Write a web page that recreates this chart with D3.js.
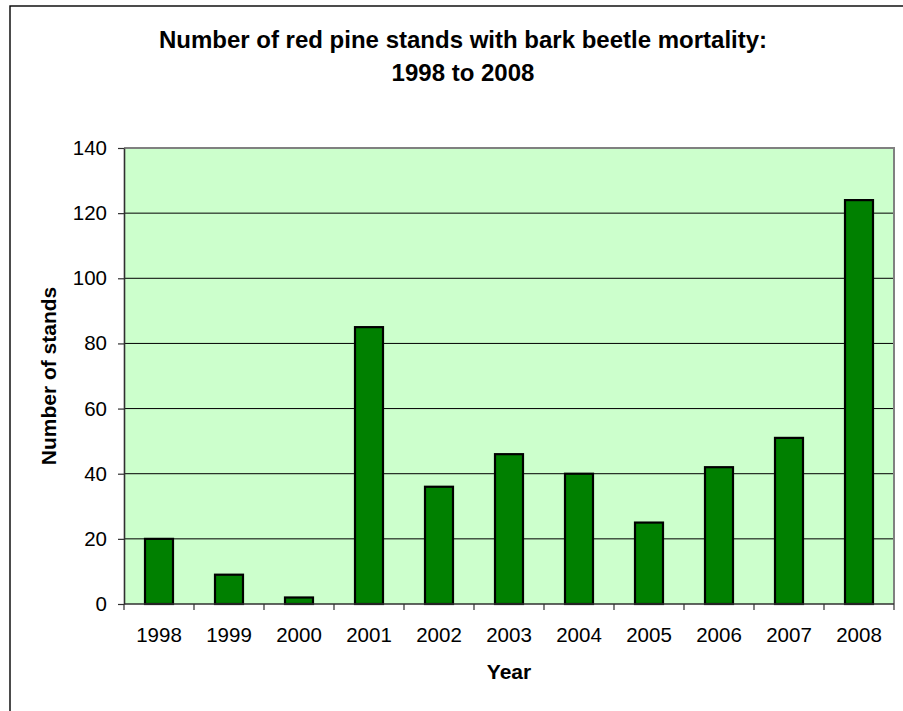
<!DOCTYPE html>
<html>
<head>
<meta charset="utf-8">
<script src="https://cdn.jsdelivr.net/npm/d3@7"></script>
<style>
  html, body { margin: 0; padding: 0; background: #ffffff; }
  svg { display: block; font-family: Arial, "Liberation Sans", sans-serif; }
</style>
</head>
<body>
<svg id="chart" width="903" height="711"></svg>
<script>
// Red pine stands with bark beetle mortality, by year
const years = ["1998", "1999", "2000", "2001", "2002", "2003", "2004", "2005", "2006", "2007", "2008"];
const stands = [20, 9, 2, 85, 36, 46, 40, 25, 42, 51, 124];
const yTicks = [0, 20, 40, 60, 80, 100, 120, 140];
const titleLines = ["Number of red pine stands with bark beetle mortality:", "1998 to 2008"];

const svg = d3.select("#chart");
const plot = { left: 124, right: 894, top: 148, bottom: 604 };

// Outer chart frame (runs off the right and bottom edges)
svg.append("rect")
  .attr("x", 10).attr("y", 6)
  .attr("width", 1000).attr("height", 1000)
  .attr("fill", "#ffffff").attr("stroke", "#000000").attr("stroke-width", 1.4);

const x = d3.scaleBand().domain(years).range([plot.left, plot.right]).padding(0);
const y = d3.scaleLinear().domain([0, 140]).range([plot.bottom, plot.top]);

// Plot area background
svg.append("rect")
  .attr("x", plot.left).attr("y", plot.top)
  .attr("width", plot.right - plot.left).attr("height", plot.bottom - plot.top)
  .attr("fill", "#ccffcc");

// Horizontal gridlines
svg.append("g").selectAll("line")
  .data(yTicks.filter(t => t > 0 && t < 140))
  .join("line")
  .attr("x1", plot.left).attr("x2", plot.right)
  .attr("y1", d => y(d)).attr("y2", d => y(d))
  .attr("stroke", "#000000").attr("stroke-width", 1);

// Plot area border: grey top and right
svg.append("path")
  .attr("d", `M${plot.left},${y(140)}H${plot.right}V${plot.bottom}`)
  .attr("fill", "none").attr("stroke", "#808080").attr("stroke-width", 2);

// Bars
const barW = x.bandwidth() * 0.4;
svg.append("g").selectAll("rect")
  .data(years.map((yr, i) => ({ yr, v: stands[i] })))
  .join("rect")
  .attr("x", d => x(d.yr) + (x.bandwidth() - barW) / 2)
  .attr("y", d => y(d.v))
  .attr("width", barW)
  .attr("height", d => y(0) - y(d.v))
  .attr("fill", "#008000")
  .attr("stroke", "#000000").attr("stroke-width", 2.2);

// Y axis
const yAxis = svg.append("g")
  .attr("transform", `translate(${plot.left},0)`)
  .call(d3.axisLeft(y).tickValues(yTicks).tickSize(6).tickSizeOuter(0).tickPadding(11));
yAxis.select(".domain").attr("stroke", "#303030").attr("stroke-width", 1.6);
yAxis.selectAll(".tick line").attr("stroke", "#303030").attr("stroke-width", 1.2);
yAxis.selectAll("text").attr("font-size", 20.5).attr("fill", "#000000")
  .attr("font-family", "Arial, 'Liberation Sans', sans-serif");

// X axis: ticks between categories, labels centred under bars
const xAxis = svg.append("g");
xAxis.append("line")
  .attr("x1", plot.left).attr("x2", plot.right)
  .attr("y1", plot.bottom).attr("y2", plot.bottom)
  .attr("stroke", "#303030").attr("stroke-width", 1.6);
const boundaries = years.map(d => x(d)).concat([x(years[years.length - 1]) + x.bandwidth()]);
xAxis.selectAll("line.tk")
  .data(boundaries)
  .join("line").attr("class", "tk")
  .attr("x1", d => d).attr("x2", d => d)
  .attr("y1", plot.bottom).attr("y2", plot.bottom + 6)
  .attr("stroke", "#303030").attr("stroke-width", 1.2);
xAxis.selectAll("text")
  .data(years)
  .join("text")
  .attr("x", d => x(d) + x.bandwidth() / 2)
  .attr("y", 642)
  .attr("text-anchor", "middle")
  .attr("font-size", 20.5)
  .text(d => d);

// Axis titles
svg.append("text")
  .attr("x", (plot.left + plot.right) / 2).attr("y", 679)
  .attr("text-anchor", "middle")
  .attr("font-size", 21).attr("font-weight", "bold")
  .text("Year");

svg.append("text")
  .attr("transform", `translate(56,${(plot.top + plot.bottom) / 2}) rotate(-90)`)
  .attr("text-anchor", "middle")
  .attr("font-size", 21).attr("font-weight", "bold")
  .text("Number of stands");

// Chart title
svg.append("g").selectAll("text")
  .data(titleLines)
  .join("text")
  .attr("x", 463)
  .attr("y", (d, i) => 48 + i * 33)
  .attr("text-anchor", "middle")
  .attr("font-size", 24).attr("font-weight", "bold")
  .text(d => d);
</script>
</body>
</html>
